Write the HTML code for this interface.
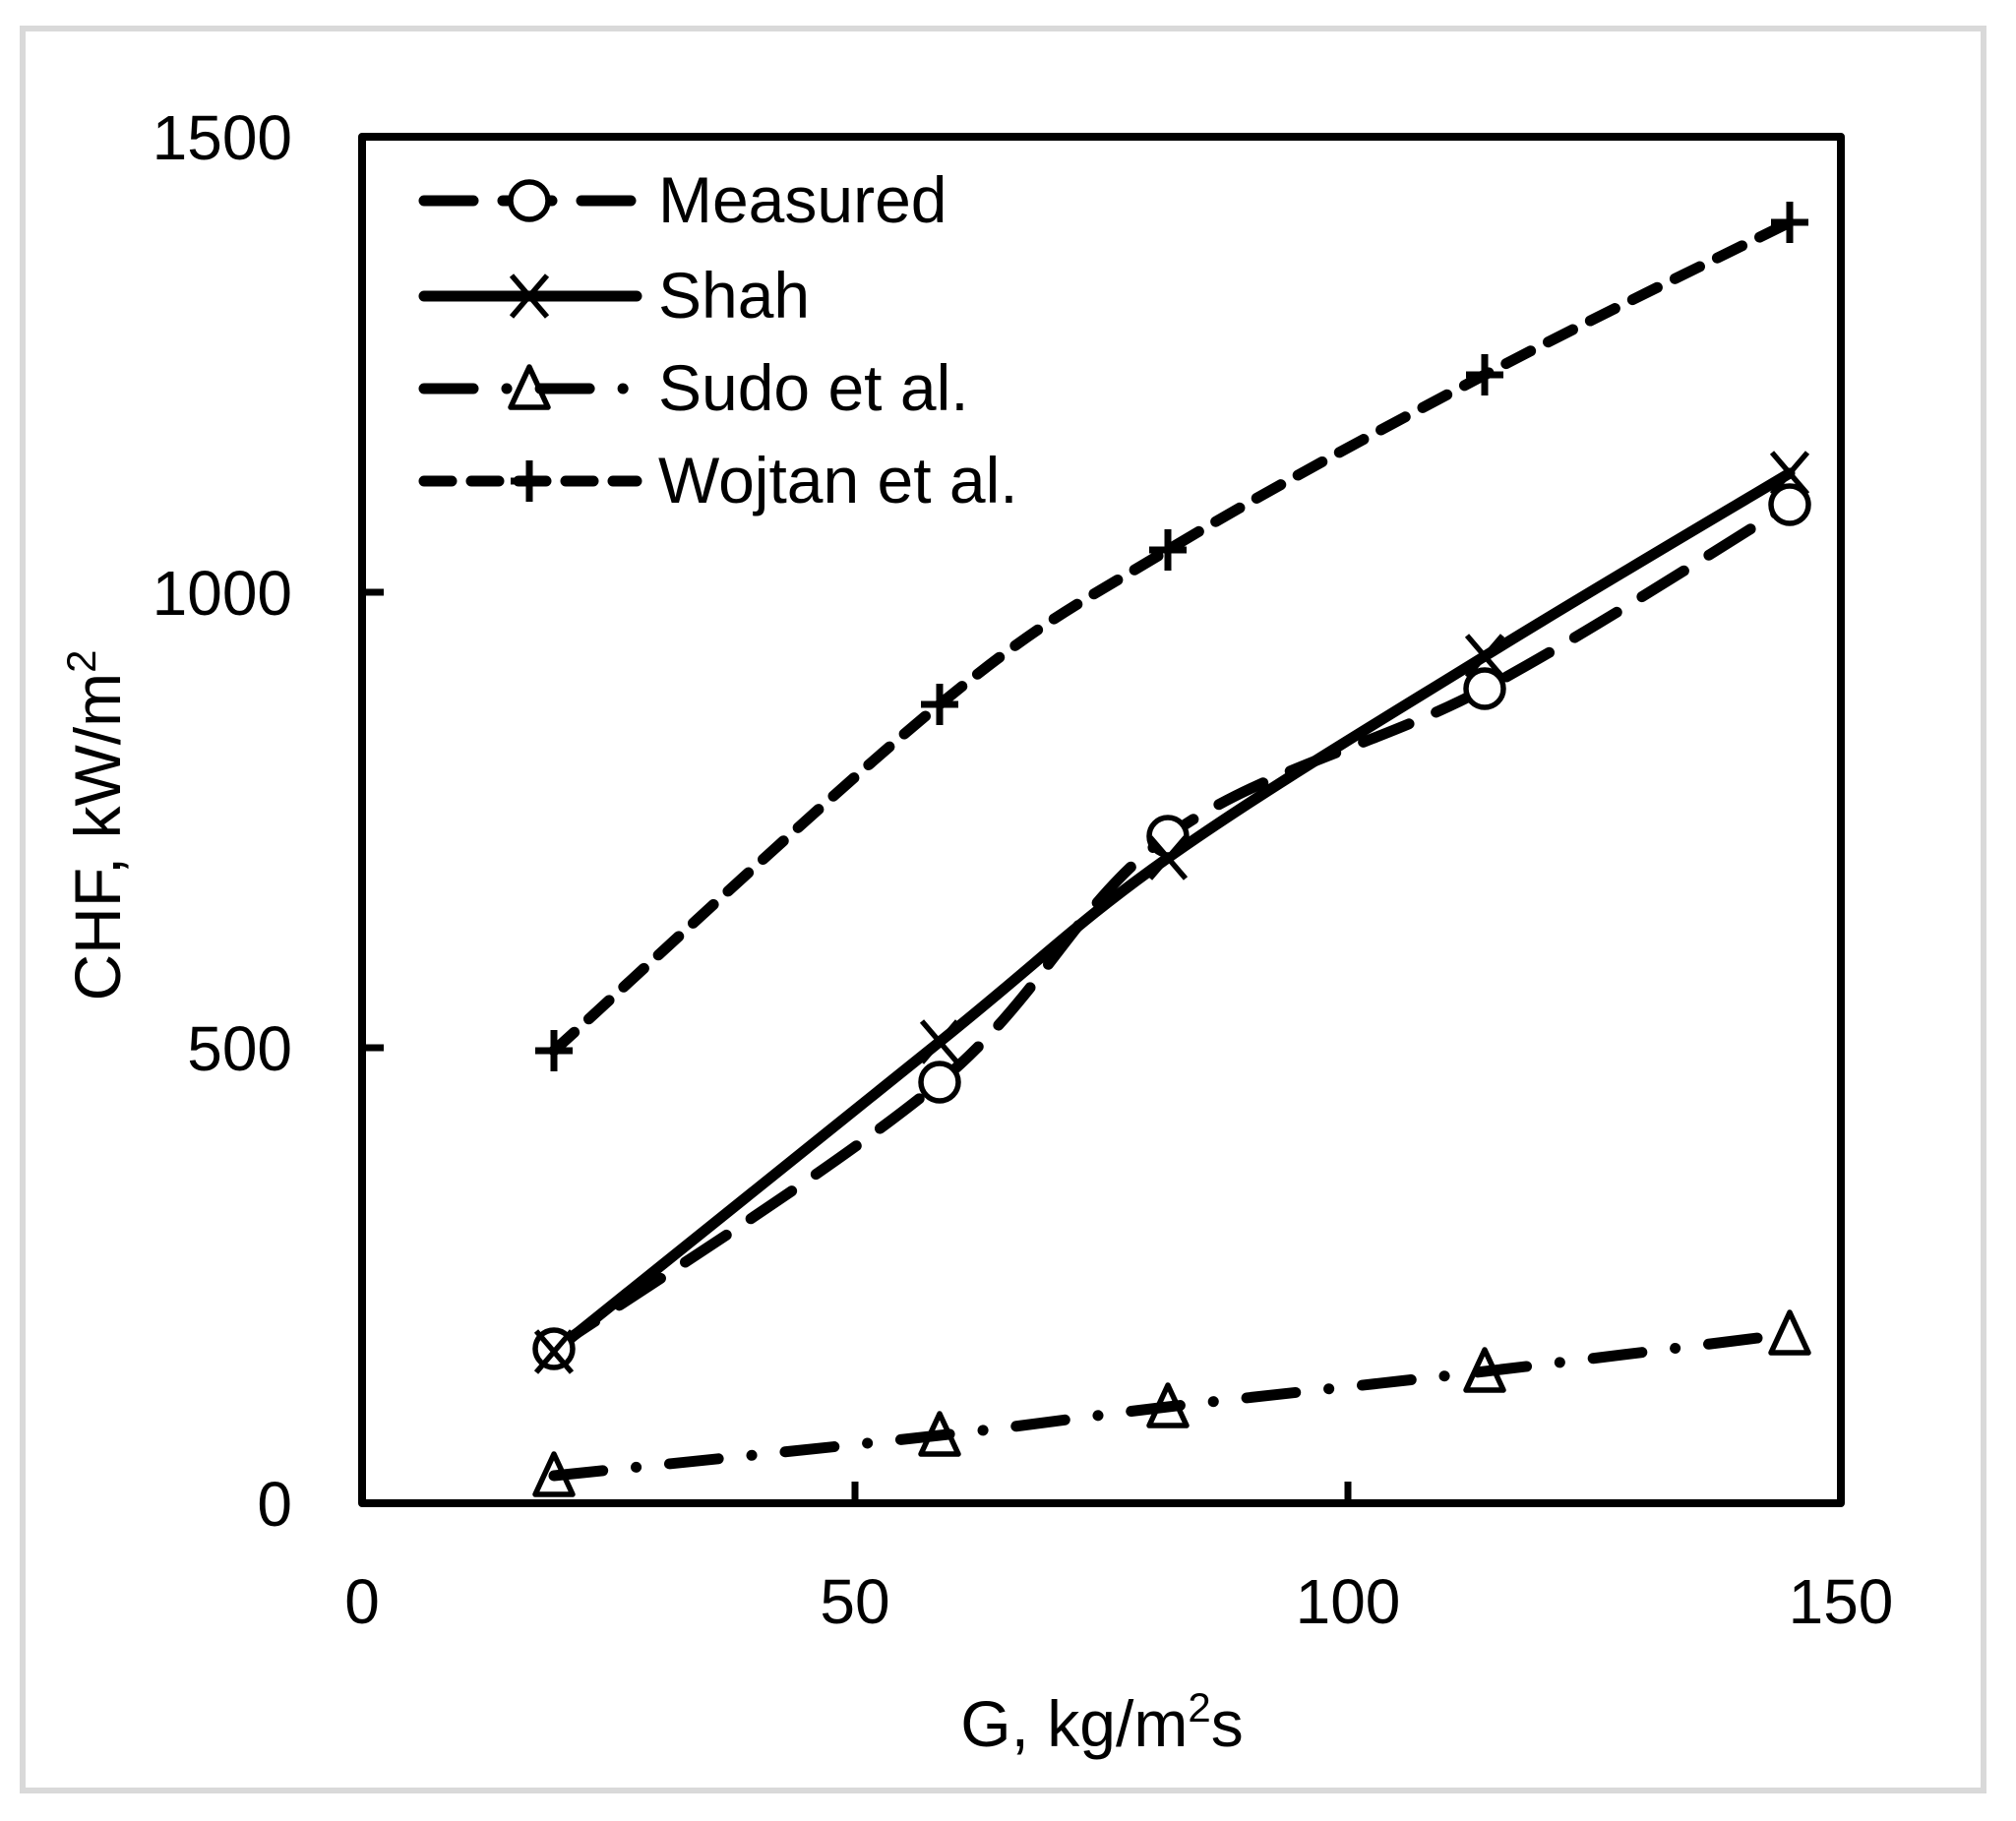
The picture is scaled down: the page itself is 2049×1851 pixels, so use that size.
<!DOCTYPE html>
<html><head><meta charset="utf-8"><style>
html,body{margin:0;padding:0;background:#fff;}
svg{display:block;}
text{font-family:"Liberation Sans",Arial,sans-serif;fill:#000;}
</style></head><body>
<svg id="s" width="2049" height="1851" viewBox="0 0 2049 1851" xmlns="http://www.w3.org/2000/svg">
<rect x="0" y="0" width="2049" height="1851" fill="#fff"/>
<rect x="23" y="29" width="1993" height="1791" fill="none" stroke="#d9d9d9" stroke-width="6"/>
<g id="series"></g>
<rect x="368" y="139" width="1503" height="1389" fill="none" stroke="#000" stroke-width="8" stroke-linejoin="round"/>
<g stroke="#000" stroke-width="7">
<line x1="869" y1="1528" x2="869" y2="1506"/>
<line x1="1370" y1="1528" x2="1370" y2="1506"/>
<line x1="368" y1="1065" x2="390" y2="1065"/>
<line x1="368" y1="602" x2="390" y2="602"/>
</g>
<g font-size="64" text-anchor="end">
<text x="297" y="162">1500</text>
<text x="297" y="625">1000</text>
<text x="297" y="1088">500</text>
<text x="297" y="1551">0</text>
</g>
<g font-size="64" text-anchor="middle">
<text x="368" y="1650">0</text>
<text x="869" y="1650">50</text>
<text x="1370" y="1650">100</text>
<text x="1871" y="1650">150</text>
</g>
<text x="1120" y="1775" font-size="66" text-anchor="middle">G, kg/m<tspan font-size="42" dy="-25">2</tspan><tspan dy="25">s</tspan></text>
<text transform="translate(122,839) rotate(-90)" font-size="66" text-anchor="middle">CHF, kW/m<tspan font-size="42" dy="-25">2</tspan></text>
<g id="legend"></g>
<g font-size="66">
<text x="669" y="226">Measured</text>
<text x="669" y="323">Shah</text>
<text x="669" y="417">Sudo et al.</text>
<text x="669" y="511">Wojtan et al.</text>
</g>
</svg>
<script>
var NS="http://www.w3.org/2000/svg";
function el(p,t,a){var e=document.createElementNS(NS,t);for(var k in a)e.setAttribute(k,a[k]);p.appendChild(e);return e;}
var X=[563,955,1187,1509,1819];
var S=[
 {y:[1371,1100,850,700,513],dash:"50 30",m:"o"},
 {y:[1374,1059,872,667,481],dash:"none",m:"x"},
 {y:[1500,1459,1430,1394,1356],dash:"50 34 0.1 34",m:"t"},
 {y:[1068,716,559,381,226],dash:"28 20",m:"p"}
];
function path(xs,ys){
 var d="M"+xs[0]+","+ys[0];
 for(var i=0;i<xs.length-1;i++){
  var x0=xs[Math.max(i-1,0)],y0=ys[Math.max(i-1,0)],x1=xs[i],y1=ys[i],x2=xs[i+1],y2=ys[i+1],x3=xs[Math.min(i+2,xs.length-1)],y3=ys[Math.min(i+2,xs.length-1)];
  var t=0.17;
  d+=" C"+(x1+(x2-x0)*t)+","+(y1+(y2-y0)*t)+" "+(x2-(x3-x1)*t)+","+(y2-(y3-y1)*t)+" "+x2+","+y2;
 }
 return d;
}
function marker(g,m,x,y){
 var a={fill:"#fff",stroke:"#000","stroke-width":5.5,"stroke-linejoin":"round"};
 if(m=="o"){a.cx=x;a.cy=y;a.r=19;el(g,"circle",a);}
 if(m=="x"){el(g,"path",{d:"M"+(x-18)+","+(y-21)+"L"+(x+18)+","+(y+21)+"M"+(x+18)+","+(y-21)+"L"+(x-18)+","+(y+21),stroke:"#000","stroke-width":5.5,fill:"none"});}
 if(m=="t"){a.d="M"+x+","+(y-22)+"L"+(x+19)+","+(y+19)+"L"+(x-19)+","+(y+19)+"Z";a.fill="none";el(g,"path",a);}
 if(m=="p"){el(g,"path",{d:"M"+(x-19)+","+y+"L"+(x+19)+","+y+"M"+x+","+(y-21)+"L"+x+","+(y+21),stroke:"#000","stroke-width":7,fill:"none"});}
}
var g=document.getElementById("series");
S.forEach(function(s){
 var a={d:path(X,s.y),fill:"none",stroke:"#000","stroke-width":11,"stroke-linecap":"round","stroke-linejoin":"round"};
 if(s.dash!="none")a["stroke-dasharray"]=s.dash;
 el(g,"path",a);
});
S.forEach(function(s){for(var i=0;i<5;i++)marker(g,s.m,X[i],s.y[i]);});
var lg=document.getElementById("legend");
var LY=[204,301,395,489];
S.forEach(function(s,i){
 var a={x1:431,y1:LY[i],x2:647,y2:LY[i],stroke:"#000","stroke-width":11,"stroke-linecap":"round"};
 if(s.dash!="none")a["stroke-dasharray"]=s.dash;
 el(lg,"line",a);
 marker(lg,s.m,538,LY[i]);
});
</script>
</body></html>
